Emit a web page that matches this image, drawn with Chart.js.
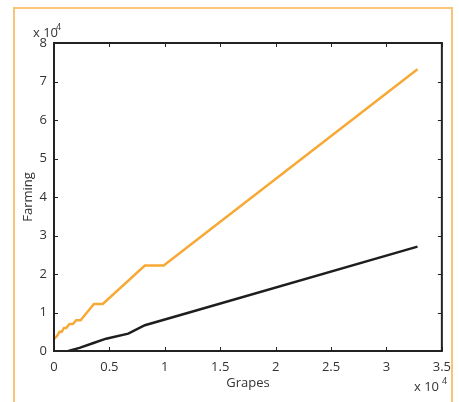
<!DOCTYPE html>
<html>
<head>
<meta charset="utf-8">
<script src="https://cdn.jsdelivr.net/npm/chart.js@4.4.1/dist/chart.umd.min.js"></script>
<style>
  html, body { margin: 0; padding: 0; background: #fff; }
  #wrap { position: relative; width: 459px; height: 402px; overflow: hidden; }
  #frame {
    position: absolute; left: 13px; top: 7px; width: 440px; height: 420px;
    border: 2px solid #f9c475; box-sizing: border-box;
  }
  #chart { position: absolute; left: 0; top: 0; }
</style>
</head>
<body>
<div id="wrap">
  <div id="frame"></div>
  <canvas id="chart" width="459" height="402"></canvas>
</div>
<script>
  // values (raw units, axes show them x 10^4)
  const orangeX = [0, 300, 500, 700, 900, 1100, 1400, 1700, 2000, 2400, 3600, 4400, 8200, 9900, 32800];
  const orangeY = [3100, 4000, 5000, 5000, 6000, 6000, 7000, 7000, 8000, 8000, 12200, 12200, 22200, 22200, 73200];
  const blackX = [1300, 2300, 3500, 4700, 6700, 8200, 10000, 12200, 32800];
  const blackY = [0, 800, 2000, 3200, 4500, 6700, 8200, 10000, 27100];
  const xTicks = [0, 5000, 10000, 15000, 20000, 25000, 30000, 35000];
  const yTicks = [0, 10000, 20000, 30000, 40000, 50000, 60000, 70000, 80000];

  const toPoints = (xs, ys) => xs.map((x, i) => ({ x: x, y: ys[i] }));
  const fmt = (v) => String(v / 10000);
  const family = "'Open Sans', 'Noto Sans', sans-serif";
  const font = { family: family, size: 13 };
  const ink = "#222";

  const frameAndTicks = {
    id: "frameAndTicks",
    afterDraw(chart) {
      const ctx = chart.ctx;
      const a = chart.chartArea;
      const xs = chart.scales.x;
      const ys = chart.scales.y;
      ctx.save();
      ctx.strokeStyle = ink;
      ctx.lineWidth = 1;
      const len = 4;
      xTicks.forEach((t) => {
        const px = Math.round(xs.getPixelForValue(t)) + 0.5;
        ctx.beginPath();
        ctx.moveTo(px, a.bottom); ctx.lineTo(px, a.bottom - len);
        ctx.moveTo(px, a.top); ctx.lineTo(px, a.top + len);
        ctx.stroke();
      });
      yTicks.forEach((t) => {
        const py = Math.round(ys.getPixelForValue(t)) + 0.5;
        ctx.beginPath();
        ctx.moveTo(a.left, py); ctx.lineTo(a.left + len, py);
        ctx.moveTo(a.right, py); ctx.lineTo(a.right - len, py);
        ctx.stroke();
      });
      ctx.lineWidth = 2;
      ctx.strokeRect(a.left, a.top, a.right - a.left, a.bottom - a.top);

      // exponent labels
      ctx.fillStyle = "#333";
      ctx.textBaseline = "middle";
      ctx.textAlign = "left";
      ctx.font = "13px " + family;
      ctx.fillText("x 10", 33, 33);
      ctx.fillText("x 10", 414, 387);
      ctx.font = "9px " + family;
      ctx.fillText("4", 56, 27);
      ctx.fillText("4", 442, 381);
      ctx.restore();
    }
  };

  new Chart(document.getElementById("chart"), {
    type: "line",
    data: {
      datasets: [
        {
          label: "orange",
          data: toPoints(orangeX, orangeY),
          borderColor: "#f7a935",
          borderWidth: 2.5,
          pointRadius: 0,
          tension: 0,
        },
        {
          label: "black",
          data: toPoints(blackX, blackY),
          borderColor: "#1e1e1e",
          borderWidth: 2.5,
          pointRadius: 0,
          tension: 0,
        },
      ],
    },
    options: {
      responsive: false,
      animation: false,
      events: [],
      layout: { padding: { left: 0, right: 15, top: 43, bottom: 0 } },
      plugins: { legend: { display: false }, tooltip: { enabled: false } },
      scales: {
        x: {
          type: "linear",
          min: 0,
          max: 35000,
          afterFit: (s) => { s.height = 51; },
          afterBuildTicks: (s) => { s.ticks = xTicks.map((v) => ({ value: v })); },
          grid: { display: false, drawTicks: false },
          border: { display: false },
          ticks: { callback: fmt, color: "#333", font: font, padding: 8, maxRotation: 0 },
          title: { display: true, text: "Grapes", color: "#333", font: font, padding: { top: 0, bottom: 11 } },
        },
        y: {
          min: 0,
          max: 80000,
          afterFit: (s) => { s.width = 54; },
          afterBuildTicks: (s) => { s.ticks = yTicks.map((v) => ({ value: v })); },
          grid: { display: false, drawTicks: false },
          border: { display: false },
          ticks: { callback: fmt, color: "#333", font: font, padding: 7 },
          title: { display: true, text: "Farming", color: "#333", font: font, padding: { top: 20, bottom: 0 } },
        },
      },
    },
    plugins: [frameAndTicks],
  });
</script>
</body>
</html>
